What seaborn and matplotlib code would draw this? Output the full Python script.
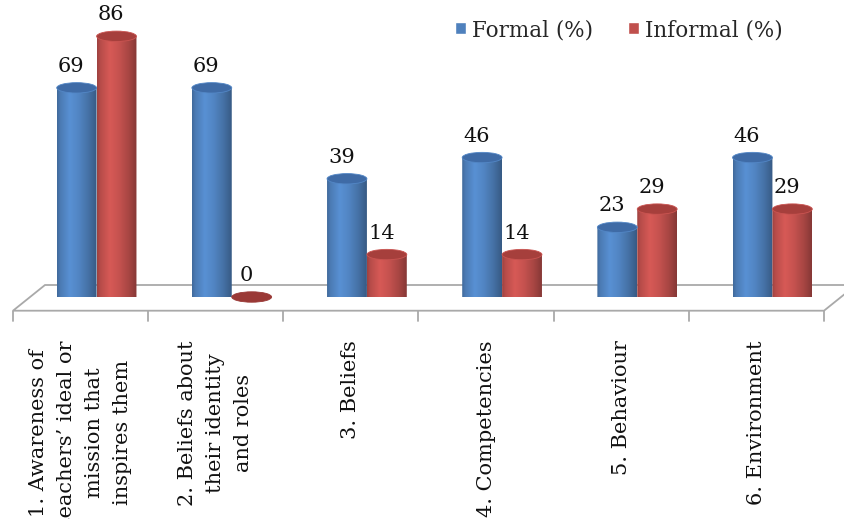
import numpy as np
import pandas as pd
import seaborn as sns
import matplotlib
matplotlib.use("Agg")
import matplotlib.pyplot as plt
import matplotlib.transforms as mtransforms
from matplotlib.patches import Ellipse, Polygon, PathPatch
from matplotlib.path import Path
from matplotlib.lines import Line2D
from matplotlib.colors import to_rgb

# ---- data -------------------------------------------------------------
categories = [
    "1. Awareness of\nteachers\u2019 ideal or\nmission that\ninspires them",
    "2. Beliefs about\ntheir identity\nand roles",
    "3. Beliefs",
    "4. Competencies",
    "5. Behaviour",
    "6. Environment",
]
formal = [69, 69, 39, 46, 23, 46]
informal = [86, 0, 14, 14, 29, 29]
series_names = ["Formal (%)", "Informal (%)"]
series_colors = ["#4f81bd", "#c0504d"]
cap_colors = ["#3f6ba6", "#a63f3c"]

df = pd.DataFrame({
    "category": categories * 2,
    "value": formal + informal,
    "series": [series_names[0]] * len(categories) + [series_names[1]] * len(categories),
})

# ---- figure -------------------------------------------------------------
sns.set_theme(style="white")
plt.rcParams["font.family"] = ["DejaVu Serif"]
FS = 15

W, H, DPI = 844, 519, 100
fig = plt.figure(figsize=(W / DPI, H / DPI), dpi=DPI)
fig.patch.set_facecolor("white")

base_px = 297          # pixel row (from top) of the zero level
ymax = 95
ax_h_px = 288
ax = fig.add_axes([29 / W, (H - base_px) / H, 811 / W, ax_h_px / H])

sns.barplot(data=df, x="category", y="value", hue="series",
            palette=series_colors, width=0.59, saturation=1,
            errorbar=None, ax=ax)

ax.set_xlim(-0.5, 5.5)
ax.set_ylim(0, ymax)
for s in ax.spines.values():
    s.set_visible(False)
ax.set_yticks([])
ax.set_xlabel("")
ax.set_ylabel("")

px_per_unit = ax_h_px / ymax
ry = 5.2 / px_per_unit   # half height of the elliptical caps, data units

# horizontal shading profile of a cylinder body
prof_t = [0.0, 0.08, 0.32, 0.55, 0.8, 1.0]
prof_f = [0.82, 0.95, 1.12, 1.03, 0.87, 0.70]
tt = np.linspace(0, 1, 96)
shade = np.interp(tt, prof_t, prof_f)

fig.canvas.draw()
for k, cont in enumerate(ax.containers):
    base = np.array(to_rgb(series_colors[k]))
    img = np.clip(base[None, :] * shade[:, None], 0, 1)[None, :, :]
    for p in cont.patches:
        x0 = p.get_x()
        w = p.get_width()
        h = p.get_height()
        cx = x0 + w / 2
        p.set_visible(False)

        # body outline: top straight edge, sides, rounded bottom
        arc_t = np.linspace(0, np.pi, 60)
        arc_x = cx + (w / 2) * np.cos(arc_t)
        arc_y = -ry * np.sin(arc_t)
        verts = [(x0 + w, h)] + list(zip(arc_x, arc_y)) + [(x0, h), (x0 + w, h)]
        codes = [Path.MOVETO] + [Path.LINETO] * (len(verts) - 2) + [Path.CLOSEPOLY]
        clip = PathPatch(Path(verts, codes), transform=ax.transData)
        if h > 0:
            im = ax.imshow(img, extent=[x0, x0 + w, -ry, h],
                           aspect="auto", interpolation="bilinear", zorder=3,
                           origin="lower")
            im.set_clip_path(clip)

        cap = Ellipse((cx, h), w, 2 * ry,
                      facecolor=cap_colors[k] if h > 0 else "#9a3936",
                      edgecolor=np.clip(base * 1.05, 0, 1) if h > 0 else "#9a3936",
                      lw=0.6, zorder=4, clip_on=False)
        ax.add_patch(cap)

        ax.annotate(f"{h:.0f}", (cx, h), xytext=(-4, 8.5), textcoords="offset points",
                    ha="center", va="bottom", fontsize=FS, color="#111111",
                    zorder=5, annotation_clip=False)

ax.set_xlim(-0.5, 5.5)
ax.set_ylim(0, ymax)

# ---- floor of the 3-D plot area ----------------------------------------------
(lx, by), = ax.transData.transform([(-0.5, 0)])
(rx, _), = ax.transData.transform([(5.5, 0)])
dx, back_dy, front_dy = 16, 12, 13.7
floor = Polygon([(lx + dx, by + back_dy), (rx + dx, by + back_dy),
                 (rx - dx, by - front_dy), (lx - dx, by - front_dy)],
                closed=True, transform=mtransforms.IdentityTransform(),
                facecolor="white", edgecolor="#a9a9a9", lw=1.3,
                zorder=1, clip_on=False)
ax.add_artist(floor)

# category separators below the front edge
bounds = np.arange(-0.5, 6.0, 1.0)
for b in bounds:
    (bx, _), = ax.transData.transform([(b, 0)])
    ax.add_artist(Line2D([bx - dx, bx - dx], [by - front_dy, by - front_dy - 10],
                         transform=mtransforms.IdentityTransform(),
                         color="#a9a9a9", lw=1.3, clip_on=False, zorder=1))

# ---- category labels ---------------------------------------------------------
ax.set_xticks(range(len(categories)))
ax.set_xticklabels(categories, rotation=90, fontsize=FS, color="#111111")
ax.tick_params(axis="x", length=0, pad=31)
shift = mtransforms.ScaledTranslation(-dx / DPI, 0, fig.dpi_scale_trans)
for lab in ax.get_xticklabels():
    lab.set_transform(lab.get_transform() + shift)
    lab.set_multialignment("center")
    lab.set_linespacing(1.6)
    lab.set_va("top")
    lab.set_ha("center")

# ---- legend ---------------------------------------------------------------------
sns.move_legend(ax, "center left", bbox_to_anchor=(455 / W, 1 - 30 / H),
                bbox_transform=fig.transFigure, ncol=2, frameon=False,
                title=None, fontsize=15.5, handlelength=0.5, handleheight=0.5,
                handletextpad=0.3, columnspacing=1.6, borderaxespad=0,
                borderpad=0)

fig.savefig("out.png", dpi=DPI, facecolor="white")
